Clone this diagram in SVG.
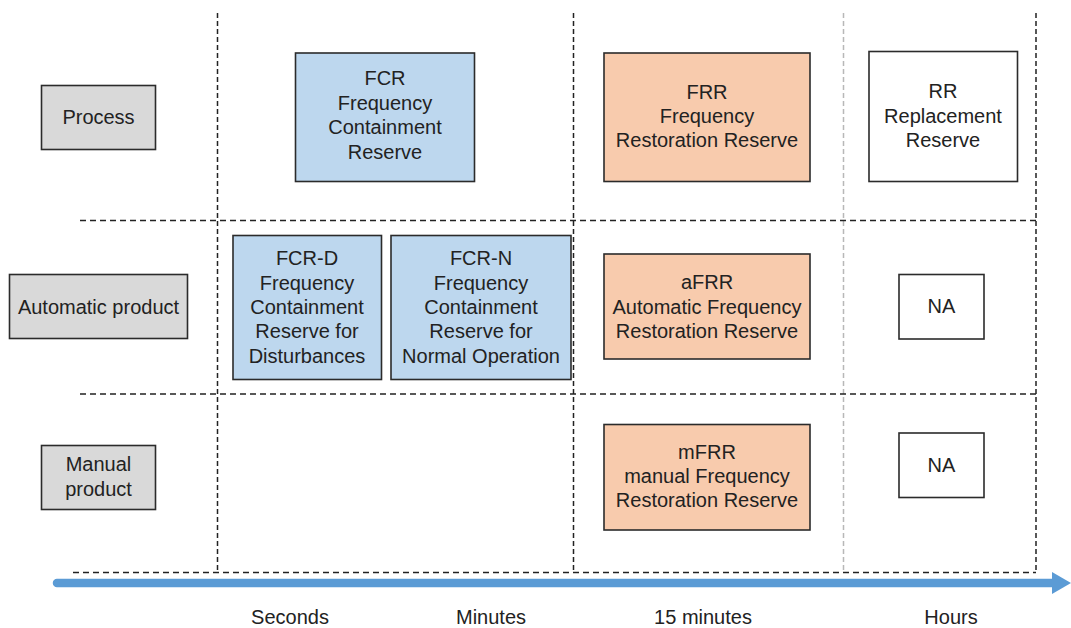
<svg xmlns="http://www.w3.org/2000/svg" width="1071" height="628" viewBox="0 0 1071 628">
  <style>
    text { font-family: "Liberation Sans", Arial, sans-serif; font-size: 20px; fill: #222; text-anchor: middle; }
    .box { stroke: #2b2b2b; stroke-width: 1.6; }
    .label { fill: #d9d9d9; }
    .fcr { fill: #bdd7ee; }
    .frr { fill: #f8cbad; }
    .plain { fill: #ffffff; }
    .hgrid { stroke: #222; stroke-width: 1.5; stroke-dasharray: 6 4; fill: none; }
    .vgrid { stroke: #222; stroke-width: 1.5; stroke-dasharray: 5 3; fill: none; }
    .vgrid-light { stroke: #b8b8b8; stroke-width: 1.5; stroke-dasharray: 5 3; fill: none; }
  </style>

  <rect width="1071" height="628" fill="#ffffff"/>

  <!-- grid lines and time axis -->
  <g id="connectors">
    <line class="vgrid" x1="217.5" y1="13" x2="217.5" y2="572"/>
    <line class="vgrid" x1="573.5" y1="13" x2="573.5" y2="572"/>
    <line class="vgrid-light" x1="843.5" y1="13" x2="843.5" y2="572"/>
    <line class="vgrid" x1="1036" y1="13" x2="1036" y2="572"/>
    <line class="hgrid" x1="80" y1="220.5" x2="1036" y2="220.5"/>
    <line class="hgrid" x1="80" y1="394" x2="1036" y2="394"/>
    <line class="hgrid" x1="73" y1="572.5" x2="1036" y2="572.5"/>
    <line x1="57" y1="583" x2="1054" y2="583" stroke="#5b9bd5" stroke-width="8.5" stroke-linecap="round"/>
    <polygon points="1052,572 1071,583 1052,594" fill="#5b9bd5"/>
  </g>

  <!-- row labels -->
  <g id="process">
    <rect class="box label" x="41.5" y="85.5" width="114" height="64"/>
    <text x="98.5" y="124">Process</text>
  </g>
  <g id="automatic-product">
    <rect class="box label" x="9.5" y="274.5" width="178" height="64"/>
    <text x="98.5" y="314">Automatic product</text>
  </g>
  <g id="manual-product">
    <rect class="box label" x="41.5" y="445.5" width="114" height="64"/>
    <text x="98.5" y="471">Manual</text>
    <text x="98.5" y="496">product</text>
  </g>

  <!-- process row -->
  <g id="fcr">
    <rect class="box fcr" x="295.5" y="53" width="179" height="128.5"/>
    <text x="385" y="85">FCR</text>
    <text x="385" y="110">Frequency</text>
    <text x="385" y="134">Containment</text>
    <text x="385" y="159">Reserve</text>
  </g>
  <g id="frr">
    <rect class="box frr" x="604" y="53" width="206" height="128.5"/>
    <text x="707" y="99">FRR</text>
    <text x="707" y="123">Frequency</text>
    <text x="707" y="147">Restoration Reserve</text>
  </g>
  <g id="rr">
    <rect class="box plain" x="869" y="51.5" width="148.5" height="130"/>
    <text x="943" y="98">RR</text>
    <text x="943" y="123">Replacement</text>
    <text x="943" y="147">Reserve</text>
  </g>

  <!-- automatic product row -->
  <g id="fcr-d">
    <rect class="box fcr" x="233" y="235.5" width="148.5" height="144"/>
    <text x="307" y="265">FCR-D</text>
    <text x="307" y="290">Frequency</text>
    <text x="307" y="314">Containment</text>
    <text x="307" y="338">Reserve for</text>
    <text x="307" y="363">Disturbances</text>
  </g>
  <g id="fcr-n">
    <rect class="box fcr" x="391" y="235.5" width="180" height="144"/>
    <text x="481" y="265">FCR-N</text>
    <text x="481" y="290">Frequency</text>
    <text x="481" y="314">Containment</text>
    <text x="481" y="338">Reserve for</text>
    <text x="481" y="363">Normal Operation</text>
  </g>
  <g id="afrr">
    <rect class="box frr" x="604" y="254" width="206" height="105"/>
    <text x="707" y="289">aFRR</text>
    <text x="707" y="314">Automatic Frequency</text>
    <text x="707" y="338">Restoration Reserve</text>
  </g>
  <g id="na-automatic">
    <rect class="box plain" x="899" y="274.5" width="85" height="64.5"/>
    <text x="941.5" y="313">NA</text>
  </g>

  <!-- manual product row -->
  <g id="mfrr">
    <rect class="box frr" x="604" y="424.5" width="206" height="105.5"/>
    <text x="707" y="459">mFRR</text>
    <text x="707" y="483">manual Frequency</text>
    <text x="707" y="507">Restoration Reserve</text>
  </g>
  <g id="na-manual">
    <rect class="box plain" x="899" y="433" width="85" height="64.5"/>
    <text x="941.5" y="472">NA</text>
  </g>

  <!-- time axis labels -->
  <g id="axis-labels">
    <text x="290" y="624">Seconds</text>
    <text x="491" y="624">Minutes</text>
    <text x="703" y="624">15 minutes</text>
    <text x="951" y="624">Hours</text>
  </g>
</svg>
